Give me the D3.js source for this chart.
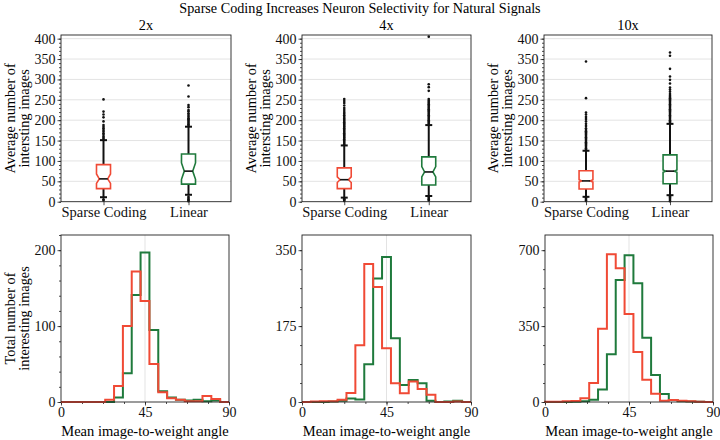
<!DOCTYPE html>
<html>
<head>
<meta charset="utf-8">
<script src="https://cdn.jsdelivr.net/npm/d3@7"></script>
<style>
  body { margin: 0; background: #fff; }
  svg { font-family: "Liberation Serif", "DejaVu Serif", serif; }
</style>
</head>
<body>
<svg id="chart" width="720" height="440"></svg>
<script>
const scaleLabels = ["2x", "4x", "10x"];
const methods = ["Sparse Coding", "Linear"];
const methodColours = ["#f04a35", "#1f7a3c"];

// box plot summaries, one [sparse, linear] pair per scale
const boxQ1 = [[32, 43], [32, 41], [31, 44]];
const boxMedian = [[56, 75], [54, 73], [51, 75]];
const boxQ3 = [[91, 117], [83, 110], [76, 115]];
const notchLo = [[45, 55], [47, 61], [48, 72]];
const notchHi = [[68, 95], [61, 86], [54, 78]];
const whiskerLo = [[11, 17], [10, 14], [12, 16]];
const whiskerHi = [[151, 184], [138, 188], [125, 191]];

// outliers
const fliers2x = [
  [154, 157, 160, 164, 168, 172, 176, 180, 184, 188, 197, 207, 214, 221, 251, 6, 3],
  [187, 190, 193, 196, 199, 202, 205, 209, 213, 217, 222, 225, 232, 237, 258, 285, 12, 9, 6, 3, 1]
];
const fliers4x = [
  [141, 144, 147, 150, 153, 156, 159, 162, 165, 168, 171, 174, 177, 180, 183, 186, 189, 192, 195,
   198, 201, 204, 208, 212, 216, 220, 225, 230, 236, 242, 247, 252, 8, 6, 4, 2],
  [191, 194, 197, 200, 203, 206, 209, 212, 215, 218, 221, 224, 227, 230, 233, 236, 239, 242, 245,
   248, 252, 272, 281, 288, 405, 12, 9, 6, 3]
];
const fliers10x = [
  [128, 131, 134, 137, 140, 143, 146, 149, 152, 155, 158, 161, 164, 167, 170, 173, 176, 180, 186,
   191, 197, 203, 208, 214, 219, 254, 344, 10, 7, 4, 2],
  [194, 197, 200, 203, 206, 209, 212, 215, 218, 221, 224, 227, 230, 233, 236, 239, 242, 245, 248,
   251, 254, 257, 260, 264, 270, 275, 280, 290, 299, 307, 326, 358, 366, 13, 10, 7, 4, 1]
];
const fliers = [fliers2x, fliers4x, fliers10x];
const boxTicks = [0, 50, 100, 150, 200, 250, 300, 350, 400];

// histograms of mean image-to-weight angle
const angleEdges = [0, 4.74, 9.47, 14.21, 18.95, 23.68, 28.42, 33.16, 37.89, 42.63,
  47.37, 52.11, 56.84, 61.58, 66.32, 71.05, 75.79, 80.53, 85.26, 90];
const sparseCounts = [
  [0, 0, 0, 0, 0, 3, 21, 100, 172, 133, 50, 13, 5, 3, 1, 1, 8, 4, 0],
  [0, 1, 2, 2, 5, 21, 131, 318, 265, 124, 43, 20, 47, 30, 17, 0, 0, 1, 0],
  [1, 1, 3, 5, 17, 88, 338, 681, 617, 406, 231, 103, 38, 6, 9, 6, 3, 1, 0]
];
const linearCounts = [
  [0, 0, 0, 0, 0, 0, 6, 38, 141, 197, 95, 14, 6, 3, 2, 3, 1, 2, 0],
  [0, 0, 0, 1, 3, 8, 6, 87, 285, 334, 147, 39, 51, 43, 3, 0, 1, 3, 0],
  [0, 0, 0, 1, 3, 10, 58, 220, 562, 677, 547, 296, 124, 37, 9, 4, 2, 1, 0]
];
const histTicks = [[0, 100, 200], [0, 175, 350], [0, 350, 700]];
const angleTicks = [0, 45, 90];

const svg = d3.select("#chart");
const boxCols = [[61, 231], [302, 471], [544, 712]];
const histCols = [[61, 229], [302, 471], [545, 713]];
const boxRows = [35, 201.7];
const histRows = [235, 402];

svg.append("text")
  .attr("x", 360).attr("y", 13)
  .attr("text-anchor", "middle")
  .style("font-size", "14.2px")
  .text("Sparse Coding Increases Neuron Selectivity for Natural Signals");

function styleAxis(g) {
  g.select(".domain").remove();
  g.selectAll("line").attr("stroke", "#222").attr("stroke-width", 0.8);
  g.selectAll("text").style("font-size", "14px").attr("fill", "#111")
    .style("font-family", "Liberation Serif, serif");
}

function yLabel(lines, xLeft, yMid) {
  lines.forEach((t, k) => {
    svg.append("text")
      .attr("transform", `translate(${xLeft + k * 13.5},${yMid}) rotate(-90)`)
      .attr("dy", "0.35em")
      .attr("text-anchor", "middle")
      .style("font-size", "14.3px")
      .text(t);
  });
}

function drawBoxPanel(i) {
  const [x0, x1] = boxCols[i];
  const x = d3.scalePoint().domain(methods).range([x0, x1]).padding(0.5);
  const y = d3.scaleLinear().domain([0, 409]).range([boxRows[1], boxRows[0]]);
  const g = svg.append("g");
  const bw = x.step() * 0.165;

  g.selectAll(".grid").data(boxTicks.slice(1)).join("line")
    .attr("x1", x0).attr("x2", x1)
    .attr("y1", d => y(d)).attr("y2", d => y(d))
    .attr("stroke", "#e3e3e3").attr("stroke-width", 1);

  g.append("g").attr("transform", `translate(${x0},0)`)
    .call(d3.axisLeft(y).tickValues(d3.range(0, 410, 10)).tickSize(2).tickFormat(""))
    .call(styleAxis);
  g.append("g").attr("transform", `translate(${x0},0)`)
    .call(d3.axisLeft(y).tickValues(boxTicks).tickSize(3.5).tickPadding(2))
    .call(styleAxis);
  g.append("g").attr("transform", `translate(0,${boxRows[1]})`)
    .call(d3.axisBottom(x).tickSize(3.5).tickPadding(2))
    .call(styleAxis)
    .selectAll("text").style("font-size", "14.5px");

  methods.forEach((m, j) => {
    const cx = x(m);
    // whiskers
    g.append("line").attr("x1", cx).attr("x2", cx)
      .attr("y1", y(boxQ3[i][j])).attr("y2", y(whiskerHi[i][j]))
      .attr("stroke", "#111").attr("stroke-width", 2);
    g.append("line").attr("x1", cx).attr("x2", cx)
      .attr("y1", y(boxQ1[i][j])).attr("y2", y(whiskerLo[i][j]))
      .attr("stroke", "#111").attr("stroke-width", 2);
    [whiskerLo[i][j], whiskerHi[i][j]].forEach(v => {
      g.append("line").attr("x1", cx - bw / 4).attr("x2", cx + bw / 4)
        .attr("y1", y(v)).attr("y2", y(v))
        .attr("stroke", "#111").attr("stroke-width", 2);
    });
    // fliers
    g.selectAll(`.flier${j}`).data(fliers[i][j]).join("circle")
      .attr("cx", cx).attr("cy", d => y(d)).attr("r", 1.3)
      .attr("fill", "#111");
    // notched box
    const l = cx - bw / 2, r = cx + bw / 2, nl = cx - bw * 0.3, nr = cx + bw * 0.3;
    const pts = [
      [l, boxQ1[i][j]], [r, boxQ1[i][j]], [r, notchLo[i][j]], [nr, boxMedian[i][j]],
      [r, notchHi[i][j]], [r, boxQ3[i][j]], [l, boxQ3[i][j]], [l, notchHi[i][j]],
      [nl, boxMedian[i][j]], [l, notchLo[i][j]]
    ];
    g.append("path")
      .attr("d", d3.line().x(p => p[0]).y(p => y(p[1]))(pts) + "Z")
      .attr("fill", "#fff").attr("stroke", methodColours[j]).attr("stroke-width", 1.6);
    g.append("line").attr("x1", nl).attr("x2", nr)
      .attr("y1", y(boxMedian[i][j])).attr("y2", y(boxMedian[i][j]))
      .attr("stroke", "#111").attr("stroke-width", 1.6);
  });

  g.append("rect").attr("x", x0).attr("y", boxRows[0])
    .attr("width", x1 - x0).attr("height", boxRows[1] - boxRows[0])
    .attr("fill", "none").attr("stroke", "#222").attr("stroke-width", 0.9);

  svg.append("text")
    .attr("x", (x0 + x1) / 2).attr("y", 30)
    .attr("text-anchor", "middle")
    .style("font-size", "14.3px")
    .text(scaleLabels[i]);

  yLabel(["Average number of", "intersting images"], x0 - 51, (boxRows[0] + boxRows[1]) / 2);
}

function drawHistPanel(i) {
  const [x0, x1] = histCols[i];
  const x = d3.scaleLinear().domain([0, 90]).range([x0, x1]);
  const top = histTicks[i][2] * 1.1;
  const y = d3.scaleLinear().domain([0, top]).range([histRows[1], histRows[0]]);
  const g = svg.append("g");

  g.append("line").attr("x1", x(45)).attr("x2", x(45))
    .attr("y1", histRows[0]).attr("y2", histRows[1])
    .attr("stroke", "#e3e3e3").attr("stroke-width", 1);

  const minorY = d3.range(0, top, histTicks[i][1] / (i === 0 ? 5 : 4));
  g.append("g").attr("transform", `translate(${x0},0)`)
    .call(d3.axisLeft(y).tickValues(minorY).tickSize(2).tickFormat(""))
    .call(styleAxis);
  g.append("g").attr("transform", `translate(${x0},0)`)
    .call(d3.axisLeft(y).tickValues(histTicks[i]).tickSize(3.5).tickPadding(2))
    .call(styleAxis);
  g.append("g").attr("transform", `translate(0,${histRows[1]})`)
    .call(d3.axisBottom(x).tickValues(d3.range(0, 91, 11.25)).tickSize(2).tickFormat(""))
    .call(styleAxis);
  g.append("g").attr("transform", `translate(0,${histRows[1]})`)
    .call(d3.axisBottom(x).tickValues(angleTicks).tickSize(3.5).tickPadding(2))
    .call(styleAxis);

  const step = d3.line().x(p => x(p[0])).y(p => y(p[1]));
  [linearCounts[i], sparseCounts[i]].forEach((counts, k) => {
    const pts = [[angleEdges[0], 0]];
    counts.forEach((c, b) => { pts.push([angleEdges[b], c], [angleEdges[b + 1], c]); });
    pts.push([angleEdges[angleEdges.length - 1], 0]);
    g.append("path").attr("d", step(pts))
      .attr("fill", "none")
      .attr("stroke", methodColours[1 - k])
      .attr("stroke-width", 2);
  });

  g.append("rect").attr("x", x0).attr("y", histRows[0])
    .attr("width", x1 - x0).attr("height", histRows[1] - histRows[0])
    .attr("fill", "none").attr("stroke", "#222").attr("stroke-width", 0.9);

  svg.append("text")
    .attr("x", (x0 + x1) / 2).attr("y", 436)
    .attr("text-anchor", "middle")
    .style("font-size", "14.5px")
    .text("Mean image-to-weight angle");
}

[0, 1, 2].forEach(drawBoxPanel);
[0, 1, 2].forEach(drawHistPanel);
yLabel(["Total number of", "interesting images"], 10, (histRows[0] + histRows[1]) / 2);
</script>
</body>
</html>
